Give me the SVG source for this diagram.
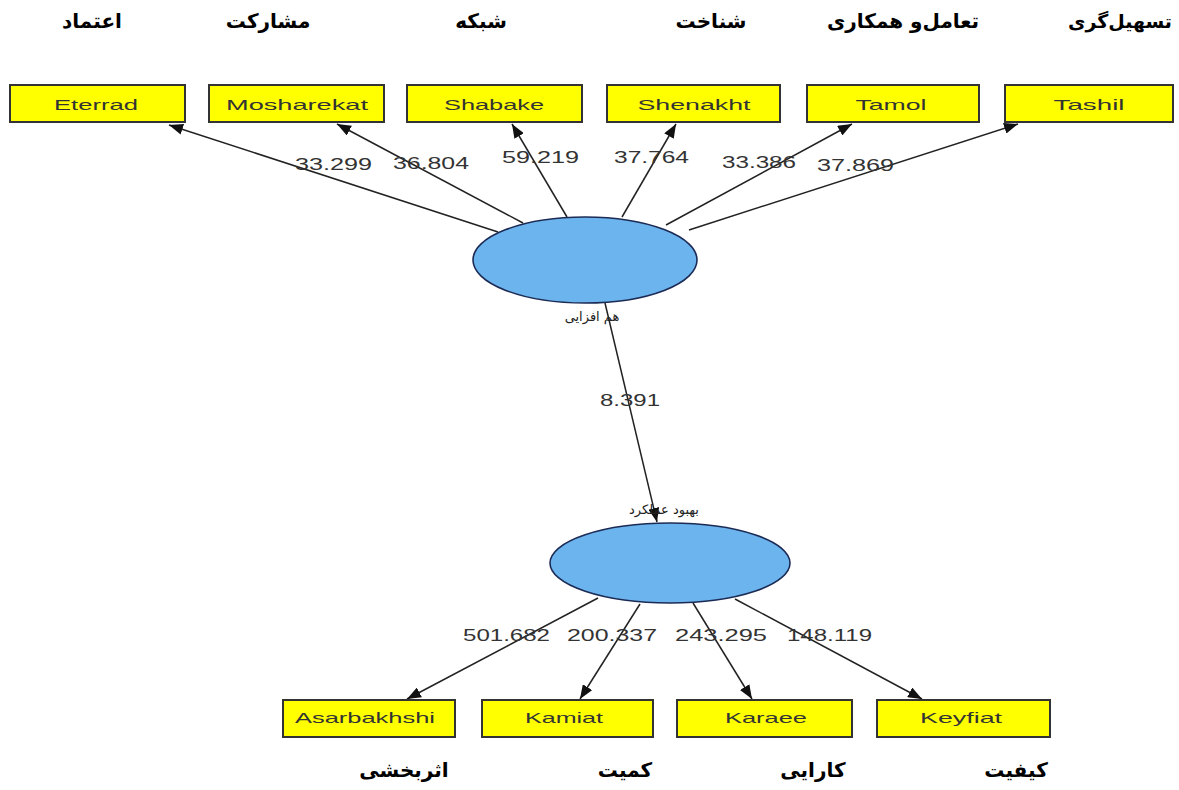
<svg xmlns="http://www.w3.org/2000/svg" width="1179" height="790" viewBox="0 0 1179 790">
<defs>
<marker id="arr" markerUnits="userSpaceOnUse" markerWidth="15" markerHeight="11" refX="14" refY="5.5" orient="auto">
<path d="M0,0 L14,5.5 L0,11 z" fill="#111"/>
</marker>
<style>
.fa{font-family:"DejaVu Sans",sans-serif;font-weight:bold;font-size:20px;fill:#000;text-anchor:middle}
.box rect{fill:#ffff00;stroke:#333;stroke-width:2}
.box text{font-family:"Liberation Sans",Arial,sans-serif;font-size:15px;fill:#333;text-anchor:middle}
.lv ellipse{fill:#6cb4ee;stroke:#1c2b55;stroke-width:1.6}
.lv text{font-family:"DejaVu Sans",sans-serif;font-size:13px;fill:#222;text-anchor:middle}
.edge line{stroke:#222;stroke-width:1.5;marker-end:url(#arr)}
.num{font-family:"Liberation Sans",Arial,sans-serif;font-size:16px;fill:#333}
</style>
</defs>
<rect width="1179" height="790" fill="#fff"/>

<g id="titles-top">
<text class="fa" x="92" y="28">اعتماد</text>
<text class="fa" x="268" y="28">مشارکت</text>
<text class="fa" x="481" y="28">شبکه</text>
<text class="fa" x="711" y="28">شناخت</text>
<text class="fa" x="903" y="28">تعامل‌و همکاری</text>
<text class="fa" x="1172" y="28" style="text-anchor:end;font-size:19px">تسهیل‌گری</text>
</g>

<g id="connectors">
<g class="edge">
<line x1="498" y1="232" x2="169" y2="125"/>
<line x1="523" y1="223" x2="337" y2="124"/>
<line x1="567" y1="217" x2="512" y2="124"/>
<line x1="622" y1="217" x2="676" y2="124"/>
<line x1="666" y1="225" x2="852" y2="124"/>
<line x1="689" y1="230" x2="1018" y2="124"/>
<line x1="605" y1="303" x2="657" y2="522"/>
<line x1="598" y1="598" x2="407" y2="699"/>
<line x1="640" y1="604" x2="580" y2="699"/>
<line x1="693" y1="603" x2="752" y2="699"/>
<line x1="735" y1="599" x2="922" y2="699"/>
</g>
<text class="num" x="295" y="170" textLength="77" lengthAdjust="spacingAndGlyphs">33.299</text>
<text class="num" x="393" y="169" textLength="76" lengthAdjust="spacingAndGlyphs">36.804</text>
<text class="num" x="502" y="163" textLength="77" lengthAdjust="spacingAndGlyphs">59.219</text>
<text class="num" x="614" y="163" textLength="75" lengthAdjust="spacingAndGlyphs">37.764</text>
<text class="num" x="722" y="168" textLength="74" lengthAdjust="spacingAndGlyphs">33.386</text>
<text class="num" x="817" y="171" textLength="77" lengthAdjust="spacingAndGlyphs">37.869</text>
<text class="num" x="600" y="406" textLength="60" lengthAdjust="spacingAndGlyphs">8.391</text>
<text class="num" x="463" y="641" textLength="87" lengthAdjust="spacingAndGlyphs">501.682</text>
<text class="num" x="567" y="641" textLength="90" lengthAdjust="spacingAndGlyphs">200.337</text>
<text class="num" x="675" y="641" textLength="92" lengthAdjust="spacingAndGlyphs">243.295</text>
<text class="num" x="787" y="641" textLength="85" lengthAdjust="spacingAndGlyphs">148.119</text>
</g>

<g id="Eterrad" class="box"><rect x="10" y="85" width="175" height="37"/><text x="96" y="110" textLength="84" lengthAdjust="spacingAndGlyphs">Eterrad</text></g>
<g id="Mosharekat" class="box"><rect x="209" y="85" width="175" height="37"/><text x="297" y="110" textLength="142" lengthAdjust="spacingAndGlyphs">Mosharekat</text></g>
<g id="Shabake" class="box"><rect x="407" y="85" width="175" height="37"/><text x="494" y="110" textLength="100" lengthAdjust="spacingAndGlyphs">Shabake</text></g>
<g id="Shenakht" class="box"><rect x="607" y="85" width="173" height="37"/><text x="694" y="110" textLength="113" lengthAdjust="spacingAndGlyphs">Shenakht</text></g>
<g id="Tamol" class="box"><rect x="807" y="85" width="172" height="37"/><text x="891" y="110" textLength="71" lengthAdjust="spacingAndGlyphs">Tamol</text></g>
<g id="Tashil" class="box"><rect x="1005" y="85" width="168" height="37"/><text x="1089" y="110" textLength="71" lengthAdjust="spacingAndGlyphs">Tashil</text></g>

<g id="hamafzayi" class="lv"><ellipse cx="585" cy="260" rx="112" ry="43"/><text x="592" y="321">هم افزایی</text></g>
<g id="behbood" class="lv"><ellipse cx="670" cy="563" rx="120" ry="40"/><text x="664" y="514">بهبود عملکرد</text></g>

<g id="Asarbakhshi" class="box"><rect x="283" y="700" width="172" height="37"/><text x="365" y="723" textLength="140" lengthAdjust="spacingAndGlyphs">Asarbakhshi</text></g>
<g id="Kamiat" class="box"><rect x="482" y="700" width="171" height="37"/><text x="564" y="723" textLength="78" lengthAdjust="spacingAndGlyphs">Kamiat</text></g>
<g id="Karaee" class="box"><rect x="677" y="700" width="175" height="37"/><text x="766" y="723" textLength="82" lengthAdjust="spacingAndGlyphs">Karaee</text></g>
<g id="Keyfiat" class="box"><rect x="877" y="700" width="173" height="37"/><text x="961" y="723" textLength="82" lengthAdjust="spacingAndGlyphs">Keyfiat</text></g>

<g id="titles-bottom">
<text class="fa" x="404" y="777">اثربخشی</text>
<text class="fa" x="625" y="777">کمیت</text>
<text class="fa" x="813" y="777">کارایی</text>
<text class="fa" x="1016" y="777">کیفیت</text>
</g>
</svg>
